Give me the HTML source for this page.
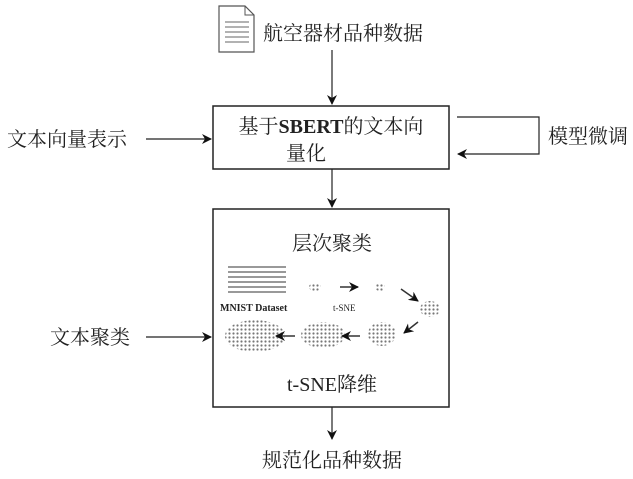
<!DOCTYPE html>
<html><head><meta charset="utf-8"><style>
body{margin:0;background:#fff}
svg text{font-family:"Liberation Serif","Noto Serif CJK SC",serif;fill:#222}
</style></head><body>
<svg width="633" height="474" viewBox="0 0 633 474" xmlns="http://www.w3.org/2000/svg">
<defs><marker id="a" markerWidth="10" markerHeight="10" refX="9" refY="5" orient="auto" markerUnits="userSpaceOnUse"><path d="M0,0 L10,5 L0,10 L3,5 z" fill="#111"/></marker>
<pattern id="d" width="4" height="4" patternUnits="userSpaceOnUse"><rect width="4" height="4" fill="#fff"/><circle cx="1.5" cy="1.5" r="1.1" fill="#777"/></pattern></defs>
<!-- doc icon -->
<path d="M219,6 H245 L254,15 V52 H219 Z" fill="#fff" stroke="#555" stroke-width="1.2"/>
<path d="M245,6 V15 H254" fill="none" stroke="#555"/>
<g stroke="#666" stroke-width="1"><line x1="225" y1="22" x2="249" y2="22"/><line x1="225" y1="27" x2="249" y2="27"/><line x1="225" y1="32" x2="249" y2="32"/><line x1="225" y1="37" x2="249" y2="37"/><line x1="225" y1="42" x2="249" y2="42"/></g>
<text x="263" y="40" font-size="20">航空器材品种数据</text>
<line x1="332" y1="50" x2="332" y2="104" stroke="#222" stroke-width="1.2" marker-end="url(#a)"/>
<rect x="213" y="106" width="236" height="63" fill="#fff" stroke="#222" stroke-width="1.5"/>
<text x="331" y="133" font-size="20" text-anchor="middle">基于<tspan font-weight="bold">SBERT</tspan>的文本向</text>
<text x="306" y="160" font-size="20" text-anchor="middle">量化</text>
<path d="M457,117 H539 V154 H458" fill="none" stroke="#222" stroke-width="1.2" marker-end="url(#a)"/>
<text x="548" y="143" font-size="20">模型微调</text>
<text x="7" y="146" font-size="20">文本向量表示</text>
<line x1="146" y1="139" x2="211" y2="139" stroke="#222" stroke-width="1.2" marker-end="url(#a)"/>
<line x1="332" y1="169" x2="332" y2="207" stroke="#222" stroke-width="1.2" marker-end="url(#a)"/>
<rect x="213" y="209" width="236" height="198" fill="#fff" stroke="#222" stroke-width="1.5"/>
<text x="332" y="250" font-size="20" text-anchor="middle">层次聚类</text>
<text x="332" y="391" font-size="20" text-anchor="middle">t-SNE降维</text>
<text x="50" y="344" font-size="20">文本聚类</text>
<line x1="146" y1="337" x2="211" y2="337" stroke="#222" stroke-width="1.2" marker-end="url(#a)"/>
<line x1="332" y1="407" x2="332" y2="439" stroke="#222" stroke-width="1.2" marker-end="url(#a)"/>
<text x="332" y="467" font-size="20" text-anchor="middle">规范化品种数据</text>
<!-- MNIST grid -->
<g fill="#999">
<rect x="228" y="266" width="58" height="2"/><rect x="228" y="271" width="58" height="2"/><rect x="228" y="276" width="58" height="2"/><rect x="228" y="281" width="58" height="2"/><rect x="228" y="286" width="58" height="2"/><rect x="228" y="291" width="58" height="2"/>
</g>
<text x="220" y="311" font-size="10" font-weight="bold">MNIST  Dataset</text>
<text x="333" y="311" font-size="9">t-SNE</text>
<g fill="url(#d)">
<ellipse cx="315" cy="287" rx="6" ry="4"/>
<ellipse cx="380" cy="287" rx="5" ry="4"/>
<ellipse cx="430" cy="309" rx="10" ry="8"/>
<ellipse cx="382" cy="334" rx="14" ry="12"/>
<ellipse cx="323" cy="335" rx="22" ry="13"/>
<ellipse cx="255" cy="336" rx="30" ry="16"/>
</g>
<g stroke="#333" stroke-width="1.5" fill="none" marker-end="url(#a)">
<line x1="340" y1="287" x2="358" y2="287"/>
<line x1="401" y1="289" x2="418" y2="301"/>
<line x1="418" y1="322" x2="404" y2="333"/>
<line x1="360" y1="336" x2="342" y2="336"/>
<line x1="295" y1="336" x2="276" y2="336"/>
</g>
</svg>
</body></html>
